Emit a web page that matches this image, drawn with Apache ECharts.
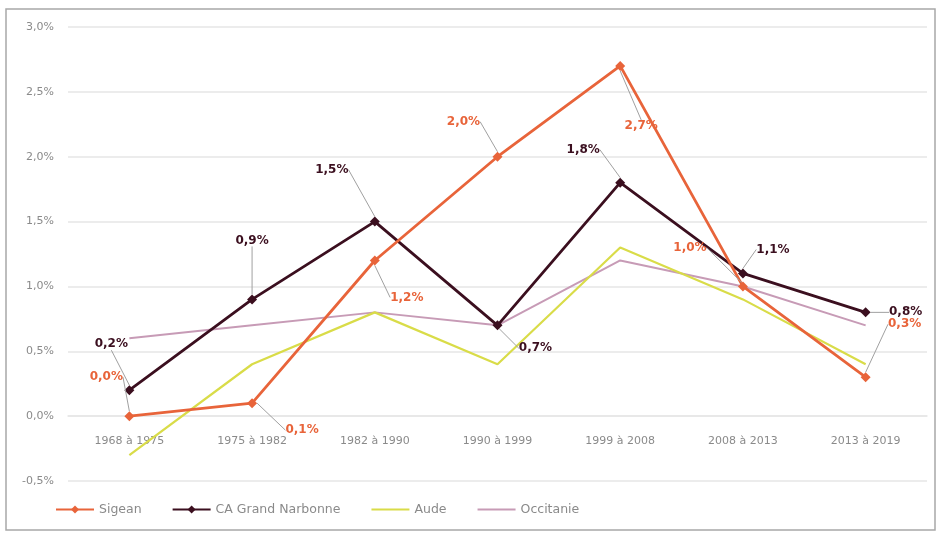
<!DOCTYPE html>
<html>
<head>
<meta charset="utf-8">
<script src="https://cdn.jsdelivr.net/npm/echarts@6/dist/echarts.min.js"></script>
<style>
  html, body { margin: 0; padding: 0; background: #fff; }
  #chart { width: 937px; height: 533px; }
</style>
</head>
<body>
<div id="chart"></div>
<script>
// Taux de variation annuel moyen de la population
const periods = ['1968 à 1975', '1975 à 1982', '1982 à 1990', '1990 à 1999', '1999 à 2008', '2008 à 2013', '2013 à 2019'];
const sigean = [0.0, 0.1, 1.2, 2.0, 2.7, 1.0, 0.3];
const narbonne = [0.2, 0.9, 1.5, 0.7, 1.8, 1.1, 0.8];
const aude = [-0.3, 0.4, 0.8, 0.4, 1.3, 0.9, 0.4];
const occitanie = [0.6, 0.7, 0.8, 0.7, 1.2, 1.0, 0.7];
const yTicks = { min: -0.5, max: 3.0, step: 0.5 };

// Callout offsets (px) for the value labels, relative to each point
const sigeanOffsets = [[-23, -39], [50, 27], [32, 37], [-34, -35], [21, 60], [-53, -39], [39, -53]];
const narbonneOffsets = [[-18, -46], [0, -59], [-43, -52], [38, 23], [-37, -33], [30, -24], [40, 0]];

const FONT = '"DejaVu Sans", "Noto Sans", sans-serif';
const fmt = v => v.toFixed(1).replace('.', ',') + '%';

const GRID = { left: 68, right: 10, top: 27, bottom: 52 };
const CHART_H = 533;
// the category labels sit just under the 0 % line
const plotH = CHART_H - GRID.top - GRID.bottom;
const zeroShift = -plotH * (0 - yTicks.min) / (yTicks.max - yTicks.min);

function calloutLayout(offsets) {
  return function (params) {
    const r = params.rect;
    const o = offsets[params.dataIndex];
    return {
      x: r.x + r.width / 2 + o[0],
      y: r.y + r.height / 2 + o[1],
      align: 'center',
      verticalAlign: 'middle'
    };
  };
}

const chart = echarts.init(document.getElementById('chart'), null, { renderer: 'canvas' });

chart.setOption({
  animation: false,
  backgroundColor: '#fff',
  textStyle: { fontFamily: FONT },
  graphic: [{
    type: 'rect',
    shape: { x: 6, y: 9, width: 929, height: 521 },
    style: { fill: 'none', stroke: '#a8a8a8', lineWidth: 1.5 },
    z: -1
  }],
  grid: GRID,
  legend: {
    left: 50,
    bottom: 12,
    itemWidth: 38,
    itemHeight: 10,
    itemGap: 30,
    textStyle: { color: '#8a8a8a', fontSize: 12.5, fontFamily: FONT },
    data: [
      { name: 'Sigean' },
      { name: 'CA Grand Narbonne' },
      { name: 'Aude', itemStyle: { opacity: 0 } },
      { name: 'Occitanie', itemStyle: { opacity: 0 } }
    ]
  },
  xAxis: {
    type: 'category',
    data: periods,
    boundaryGap: true,
    offset: zeroShift,
    axisLine: { onZero: false, lineStyle: { color: '#e6e6e6', width: 1.5 } },
    axisTick: { show: false },
    axisLabel: { color: '#8a8a8a', fontSize: 11, margin: 19, fontFamily: FONT }
  },
  yAxis: {
    type: 'value',
    min: yTicks.min,
    max: yTicks.max,
    interval: yTicks.step,
    axisLine: { show: false },
    axisTick: { show: false },
    splitLine: { lineStyle: { color: '#e6e6e6', width: 1.5 } },
    axisLabel: { color: '#8a8a8a', fontSize: 11, margin: 14, fontFamily: FONT, formatter: v => fmt(v) }
  },
  series: [
    {
      name: 'Occitanie',
      type: 'line',
      data: occitanie,
      symbol: 'none',
      lineStyle: { color: '#c79bb6', width: 2 },
      itemStyle: { color: '#c79bb6' },
      z: 2
    },
    {
      name: 'Aude',
      type: 'line',
      data: aude,
      symbol: 'none',
      lineStyle: { color: '#d9dc48', width: 2.2 },
      itemStyle: { color: '#d9dc48' },
      z: 2
    },
    {
      name: 'CA Grand Narbonne',
      type: 'line',
      data: narbonne,
      symbol: 'diamond',
      symbolSize: 10,
      lineStyle: { color: '#3b0f1f', width: 2.8 },
      itemStyle: { color: '#3b0f1f' },
      label: {
        show: true,
        formatter: p => fmt(p.value),
        color: '#3b0f1f',
        fontWeight: 'bold',
        fontSize: 12,
        fontFamily: FONT
      },
      labelLayout: calloutLayout(narbonneOffsets),
      labelLine: { show: true, lineStyle: { color: '#a0a0a0', width: 1 } },
      z: 3
    },
    {
      name: 'Sigean',
      type: 'line',
      data: sigean,
      symbol: 'diamond',
      symbolSize: 10,
      lineStyle: { color: '#e8643a', width: 2.8 },
      itemStyle: { color: '#e8643a' },
      label: {
        show: true,
        formatter: p => fmt(p.value),
        color: '#e8643a',
        fontWeight: 'bold',
        fontSize: 12,
        fontFamily: FONT
      },
      labelLayout: calloutLayout(sigeanOffsets),
      labelLine: { show: true, lineStyle: { color: '#a0a0a0', width: 1 } },
      z: 4
    }
  ]
});
</script>
</body>
</html>
